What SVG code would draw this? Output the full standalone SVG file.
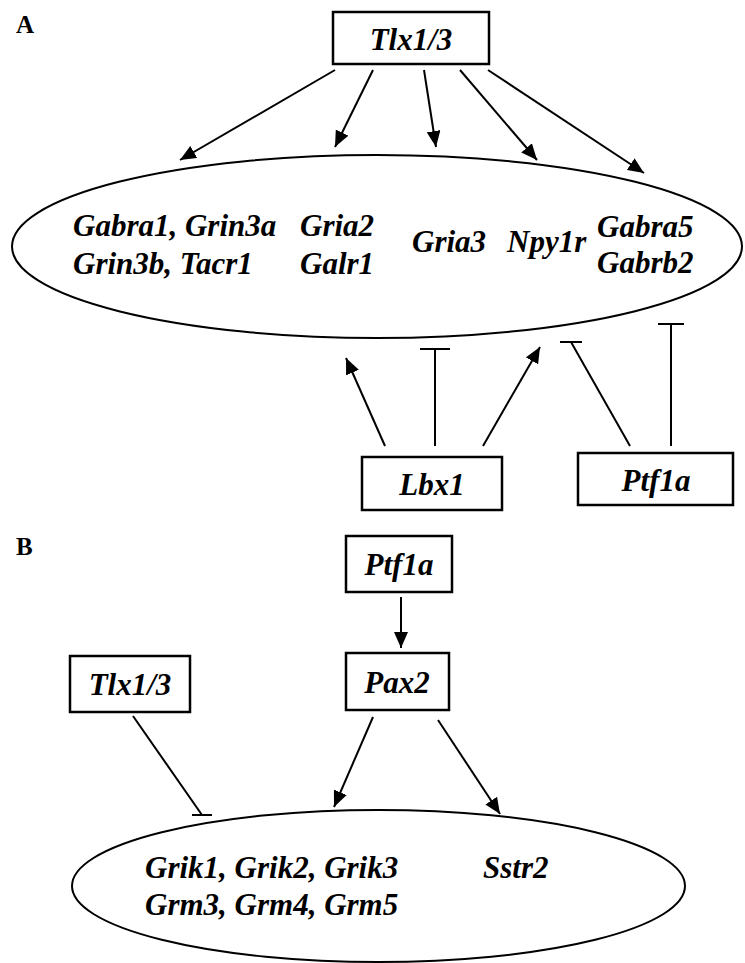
<svg xmlns="http://www.w3.org/2000/svg" width="745" height="963" viewBox="0 0 745 963">
  <style>
    .bg { fill: #ffffff; }
    .box { fill: #ffffff; stroke: #000000; stroke-width: 2.5; }
    .oval { fill: #ffffff; stroke: #000000; stroke-width: 2; }
    .gene { font-family: "Liberation Serif", "Times New Roman", serif; font-weight: bold; font-style: italic; font-size: 31px; fill: #000000; }
    .panel { font-family: "Liberation Serif", "Times New Roman", serif; font-weight: bold; font-size: 25px; fill: #000000; }
    .edge { stroke: #000000; stroke-width: 2; fill: none; }
    .act { marker-end: url(#arrow); }
  </style>
  <defs>
    <marker id="arrow" markerUnits="userSpaceOnUse" markerWidth="16" markerHeight="14" refX="16" refY="7" orient="auto">
      <path d="M0,0 L16,7 L0,14 z" fill="#000000"/>
    </marker>
  </defs>

  <rect class="bg" x="0" y="0" width="745" height="963"/>

  <!-- panel letters -->
  <text class="panel" x="16" y="33">A</text>
  <text class="panel" x="16" y="555">B</text>

  <!-- Panel A: targets -->
  <g id="targetsA">
    <ellipse class="oval" cx="377" cy="246.5" rx="365" ry="91.5"/>
    <text class="gene" x="73" y="236">Gabra1, Grin3a</text>
    <text class="gene" x="73" y="274">Grin3b, Tacr1</text>
    <text class="gene" x="300" y="236">Gria2</text>
    <text class="gene" x="300" y="274">Galr1</text>
    <text class="gene" x="412" y="252">Gria3</text>
    <text class="gene" x="507" y="252">Npy1r</text>
    <text class="gene" x="597" y="237">Gabra5</text>
    <text class="gene" x="597" y="273">Gabrb2</text>
  </g>

  <!-- Panel A: regulators -->
  <g id="tlxA">
    <rect class="box" x="333" y="12" width="156" height="52"/>
    <text class="gene" x="411" y="50" text-anchor="middle">Tlx1/3</text>
  </g>
  <g id="lbx1">
    <rect class="box" x="362" y="457" width="140" height="53"/>
    <text class="gene" x="432" y="495" text-anchor="middle">Lbx1</text>
  </g>
  <g id="ptf1aA">
    <rect class="box" x="578" y="453" width="155" height="52"/>
    <text class="gene" x="656" y="491" text-anchor="middle">Ptf1a</text>
  </g>

  <!-- Panel B: regulators -->
  <g id="ptf1aB">
    <rect class="box" x="346" y="536" width="106" height="56"/>
    <text class="gene" x="399" y="575" text-anchor="middle">Ptf1a</text>
  </g>
  <g id="pax2">
    <rect class="box" x="346" y="653" width="103" height="57"/>
    <text class="gene" x="397" y="693" text-anchor="middle">Pax2</text>
  </g>
  <g id="tlxB">
    <rect class="box" x="70" y="656" width="120" height="56"/>
    <text class="gene" x="130" y="695" text-anchor="middle">Tlx1/3</text>
  </g>

  <!-- Panel B: targets -->
  <g id="targetsB">
    <ellipse class="oval" cx="378.5" cy="886" rx="306.5" ry="76"/>
    <text class="gene" x="145" y="878">Grik1, Grik2, Grik3</text>
    <text class="gene" x="145" y="915">Grm3, Grm4, Grm5</text>
    <text class="gene" x="483" y="878">Sstr2</text>
  </g>

  <!-- connectors -->
  <g id="connectors">
    <!-- Tlx1/3 activation (A) -->
    <line class="edge act" x1="335" y1="70" x2="180" y2="160"/>
    <line class="edge act" x1="373" y1="70" x2="335" y2="147"/>
    <line class="edge act" x1="424" y1="70" x2="436" y2="147"/>
    <line class="edge act" x1="460" y1="70" x2="537" y2="160"/>
    <line class="edge act" x1="488" y1="70" x2="644" y2="173"/>

    <!-- Lbx1 (A) -->
    <line class="edge act" x1="385" y1="446" x2="346" y2="358"/>
    <line class="edge act" x1="483" y1="446" x2="540" y2="347"/>
    <line class="edge" x1="435" y1="446" x2="435" y2="349"/>
    <line class="edge" x1="420" y1="349" x2="450" y2="349"/>

    <!-- Ptf1a repression (A) -->
    <line class="edge" x1="630" y1="446" x2="571" y2="342"/>
    <line class="edge" x1="560" y1="342" x2="582" y2="342"/>
    <line class="edge" x1="671" y1="446" x2="671" y2="324"/>
    <line class="edge" x1="658" y1="324" x2="684" y2="324"/>

    <!-- Panel B -->
    <line class="edge act" x1="401" y1="597" x2="401" y2="648"/>
    <line class="edge act" x1="373" y1="717" x2="334" y2="807"/>
    <line class="edge act" x1="438" y1="720" x2="500" y2="814"/>
    <line class="edge" x1="133" y1="716" x2="202" y2="815"/>
    <line class="edge" x1="192" y1="815" x2="212" y2="815"/>
  </g>
</svg>
